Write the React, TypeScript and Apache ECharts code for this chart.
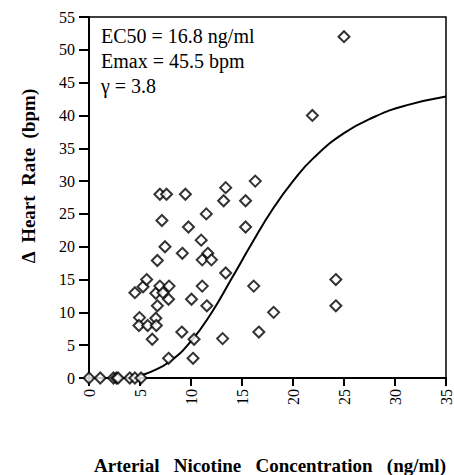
import React, { useEffect, useRef } from "react";
import * as echarts from "echarts";

const xTicks = [0, 5, 10, 15, 20, 25, 30, 35];
const yTicks = [0, 5, 10, 15, 20, 25, 30, 35, 40, 45, 50, 55];

// Observed points: [arterial nicotine (ng/ml), Δ heart rate (bpm)]
const observedX = [
  0, 1.1, 2.4, 2.7, 2.85, 4.0, 4.5, 5.1,
  4.5, 4.95, 4.9, 5.3, 5.65, 5.75, 6.2, 6.55, 6.6, 6.7, 6.55, 6.7, 6.95, 7.25,
  6.95, 7.6, 7.15, 7.45, 7.85, 7.8, 7.8, 9.1, 9.15, 9.45, 9.75, 10.05, 10.2, 10.3,
  11.0, 11.1, 11.1, 11.55, 11.5, 11.65, 12.0, 13.1, 13.4, 13.2, 13.4, 15.35, 15.35,
  16.15, 16.3, 16.65, 18.1, 21.9, 25.0, 24.2, 24.2,
];
const observedY = [
  0, 0, 0, 0, 0, 0, 0, 0,
  13, 9.2, 8, 13.9, 15, 8, 5.9, 9.1, 8, 11, 12.9, 17.9, 14, 13,
  28, 28, 24, 20, 14, 12, 3, 7, 19, 28, 23, 12, 3, 5.9,
  21, 14, 18, 11, 25, 19, 18, 6, 16, 27, 29, 27, 23,
  14, 30, 7, 10, 40, 52, 15, 11,
];

// Fitted curve
const curveX = [5, 6, 8, 10, 12, 14, 16, 18, 20, 22, 25, 28, 31, 35];
const curveY = [0.45, 0.9, 2.6, 5.6, 9.9, 15.2, 20.6, 25.7, 30.0, 33.5, 37.3, 39.8, 41.5, 42.9];

const annotations = ["EC50 = 16.8 ng/ml", "Emax = 45.5 bpm", "γ = 3.8"];
const yTitle = "Δ  Heart  Rate  (bpm)";
const xTitle = "Arterial   Nicotine   Concentration   (ng/ml)";

const SERIF = "'Liberation Serif', 'DejaVu Serif', serif";

export default function App() {
  const ref = useRef<HTMLDivElement>(null);
  useEffect(() => {
    if (!ref.current) return;
    const chart = echarts.init(ref.current, null, { renderer: "svg" });
    const scatter = observedX.map((x, i) => [x, observedY[i]]);
    const curve = curveX.map((x, i) => [x, curveY[i]]);
    chart.setOption({
      animation: false,
      backgroundColor: "#fff",
      grid: {
        left: 89,
        top: 17,
        right: 4,
        bottom: 97,
        show: true,
        borderColor: "#000",
        borderWidth: 1.5,
        backgroundColor: "transparent",
      },
      xAxis: {
        type: "value",
        min: xTicks[0],
        max: xTicks[xTicks.length - 1],
        interval: 5,
        axisLine: { show: true, onZero: false, lineStyle: { color: "#000", width: 2 } },
        axisTick: { show: true, length: 8, lineStyle: { color: "#000", width: 2 } },
        splitLine: { show: false },
        axisLabel: {
          rotate: 90,
          margin: 11,
          color: "#000",
          fontFamily: SERIF,
          fontSize: 16,
          showMaxLabel: true,
        },
      },
      yAxis: {
        type: "value",
        min: yTicks[0],
        max: yTicks[yTicks.length - 1],
        interval: 5,
        axisLine: { show: true, onZero: false, lineStyle: { color: "#000", width: 2 } },
        axisTick: { show: true, length: 10, lineStyle: { color: "#000", width: 2 } },
        splitLine: { show: false },
        axisLabel: {
          margin: 14,
          color: "#000",
          fontFamily: SERIF,
          fontSize: 16,
        },
      },
      series: [
        {
          type: "line",
          data: curve,
          smooth: true,
          symbol: "none",
          lineStyle: { color: "#000", width: 2 },
          z: 2,
        },
        {
          type: "scatter",
          data: scatter,
          symbol: "diamond",
          symbolSize: 11,
          itemStyle: { color: "#fff", borderColor: "#000", borderWidth: 2 },
          z: 3,
        },
      ],
      graphic: [
        ...annotations.map((t, i) => ({
          type: "text",
          left: 101,
          top: 26 + i * 25,
          style: { text: t, fontFamily: SERIF, fontSize: 20, fill: "#000" },
        })),
        {
          type: "text",
          x: 28,
          y: 176,
          rotation: Math.PI / 2,
          style: {
            text: yTitle,
            fontFamily: SERIF,
            fontSize: 19,
            fontWeight: "bold",
            fill: "#000",
            align: "center",
            verticalAlign: "middle",
          },
        },
        {
          type: "text",
          x: 270,
          y: 465,
          style: {
            text: xTitle,
            fontFamily: SERIF,
            fontSize: 19,
            fontWeight: "bold",
            fill: "#000",
            align: "center",
            verticalAlign: "middle",
          },
        },
      ],
    });
    return () => chart.dispose();
  }, []);
  return (
    <div
      ref={ref}
      style={{ position: "fixed", left: 0, top: 0, width: 454, height: 475, background: "#fff" }}
    />
  );
}
